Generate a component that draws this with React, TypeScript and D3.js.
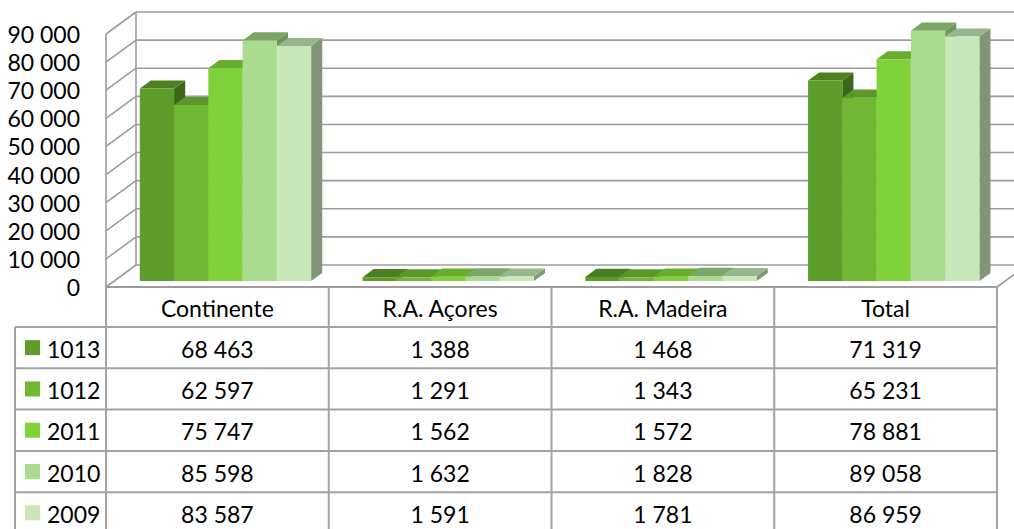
import React from "react";
import * as d3 from "d3";

const categories = ["Continente", "R.A. Açores", "R.A. Madeira", "Total"];
const seriesNames = ["1013", "1012", "2011", "2010", "2009"];
const values1013 = [68463, 1388, 1468, 71319];
const values1012 = [62597, 1291, 1343, 65231];
const values2011 = [75747, 1562, 1572, 78881];
const values2010 = [85598, 1632, 1828, 89058];
const values2009 = [83587, 1591, 1781, 86959];
const yTicks = [0, 10000, 20000, 30000, 40000, 50000, 60000, 70000, 80000, 90000];

const seriesValues = [values1013, values1012, values2011, values2010, values2009];

const frontColors = ["#5e9c2b", "#70b733", "#80d23b", "#a9dc8f", "#c9e8b9"];
const topColors = ["#4c7e22", "#5b9729", "#67ad30", "#7ba667", "#98b68e"];
const sideColors = ["#3b6716", "#4c8424", "#5a9529", "#6f9460", "#809676"];

const W = 1014;
const H = 529;
const FONT = "Lato, 'Open Sans', sans-serif";

const fmt = (v: number) => {
  const s = String(v);
  return s.replace(/\B(?=(\d{3})+(?!\d))/g, " ");
};

export default function App() {
  const xL = 106;
  const xR = 997;
  const yBase = 287;
  const yTop = 34;
  const depthDx = 30;
  const depthDy = -22;
  const d0 = 0.27;
  const d1 = 0.64;

  const yScale = d3.scaleLinear().domain([0, 90000]).range([yBase, yTop]);
  const xCat = d3.scaleBand<string>().domain(categories).range([xL, xR]);
  const xSer = d3
    .scaleBand<string>()
    .domain(seriesNames)
    .range([0, xCat.bandwidth()])
    .paddingInner(0)
    .paddingOuter(0.75);

  const proj = (x: number, v: number, d: number): [number, number] => [
    x + depthDx * d,
    yScale(v) + depthDy * d,
  ];
  const pts = (arr: [number, number][]) => arr.map((p) => p.join(",")).join(" ");

  const gridColor = "#9c9c9c";
  const tableColor = "#a3a3a3";

  // table geometry
  const headerTop = yBase;
  const headerBottom = 327;
  const rowH = 41.3;
  const tableLeft = 15;

  const bars: React.ReactNode[] = [];
  categories.forEach((cat, ci) => {
    seriesNames.forEach((s, si) => {
      const v = seriesValues[si][ci];
      const x0 = (xCat(cat) as number) + (xSer(s) as number);
      const x1 = x0 + xSer.bandwidth();
      const front: [number, number][] = [
        proj(x0, 0, d0),
        proj(x1, 0, d0),
        proj(x1, v, d0),
        proj(x0, v, d0),
      ];
      const top: [number, number][] = [
        proj(x0, v, d0),
        proj(x1, v, d0),
        proj(x1, v, d1),
        proj(x0, v, d1),
      ];
      const side: [number, number][] = [
        proj(x1, 0, d0),
        proj(x1, v, d0),
        proj(x1, v, d1),
        proj(x1, 0, d1),
      ];
      bars.push(
        <g key={`${cat}-${s}`}>
          <polygon points={pts(side)} fill={sideColors[si]} />
          <polygon points={pts(top)} fill={topColors[si]} />
          <polygon points={pts(front)} fill={frontColors[si]} />
        </g>
      );
    });
  });

  const backX0 = xL + depthDx;
  const backX1 = xR + depthDx;

  return (
    <div style={{ position: "absolute", left: 0, top: 0, width: W, height: H, background: "#fff" }}>
      <svg width={W} height={H} style={{ display: "block" }}>
        <rect x={0} y={0} width={W} height={H} fill="#fff" />
        {/* back wall gridlines */}
        {yTicks.map((t) => {
          const [bx, by] = proj(xL, t, 1);
          const [fx, fy] = proj(xL, t, 0);
          return (
            <g key={"g" + t}>
              <line x1={bx} y1={by} x2={backX1} y2={by} stroke={gridColor} strokeWidth={1.6} />
              <line x1={fx} y1={fy} x2={bx} y2={by} stroke={gridColor} strokeWidth={1.6} />
            </g>
          );
        })}
        {/* wall verticals */}
        <line x1={backX0} y1={proj(xL, 90000, 1)[1]} x2={backX0} y2={proj(xL, 0, 1)[1]} stroke={gridColor} strokeWidth={1.6} />
        <line x1={xL} y1={yScale(90000)} x2={xL} y2={yBase} stroke={gridColor} strokeWidth={1.6} />
        {/* floor */}
        <line x1={xL} y1={yBase} x2={xR} y2={yBase} stroke={gridColor} strokeWidth={1.8} />
        <line x1={xR} y1={yBase} x2={backX1} y2={proj(xR, 0, 1)[1]} stroke={gridColor} strokeWidth={1.6} />
        {bars}
        {/* y axis labels */}
        {yTicks.map((t) => (
          <text
            key={"l" + t}
            x={80}
            y={yScale(t)}
            textAnchor="end"
            dominantBaseline="central"
            fontFamily={FONT}
            fontSize={23}
            fill="#000"
          >
            {fmt(t)}
          </text>
        ))}
        {/* data table */}
        {categories.map((cat, ci) => {
          const cx = (xCat(cat) as number) + xCat.bandwidth() / 2;
          return (
            <text
              key={"h" + cat}
              x={cx}
              y={(headerTop + headerBottom) / 2 + 1}
              textAnchor="middle"
              dominantBaseline="central"
              fontFamily={FONT}
              fontSize={23}
              fill="#000"
            >
              {cat}
            </text>
          );
        })}
        {seriesNames.map((s, si) => {
          const ry = headerBottom + si * rowH;
          return (
            <g key={"r" + s}>
              <rect x={25} y={ry + rowH / 2 - 7.5} width={15} height={15} fill={frontColors[si]} />
              <text
                x={47}
                y={ry + rowH / 2 + 1}
                dominantBaseline="central"
                fontFamily={FONT}
                fontSize={23}
                fill="#000"
              >
                {s}
              </text>
              {categories.map((cat, ci) => (
                <text
                  key={cat}
                  x={(xCat(cat) as number) + xCat.bandwidth() / 2}
                  y={ry + rowH / 2 + 1}
                  textAnchor="middle"
                  dominantBaseline="central"
                  fontFamily={FONT}
                  fontSize={23}
                  fill="#000"
                >
                  {fmt(seriesValues[si][ci])}
                </text>
              ))}
            </g>
          );
        })}
        {/* table lines */}
        {seriesNames.map((s, si) => {
          const ry = headerBottom + si * rowH;
          return <line key={"hl" + s} x1={tableLeft} y1={ry} x2={xR} y2={ry} stroke={tableColor} strokeWidth={2} />;
        })}
        <line x1={tableLeft} y1={headerBottom} x2={tableLeft} y2={H} stroke={tableColor} strokeWidth={2} />
        {categories.map((cat) => (
          <line
            key={"v" + cat}
            x1={xCat(cat) as number}
            y1={headerTop}
            x2={xCat(cat) as number}
            y2={H}
            stroke={tableColor}
            strokeWidth={2}
          />
        ))}
        <line x1={xR} y1={headerTop} x2={xR} y2={H} stroke={tableColor} strokeWidth={2} />
      </svg>
    </div>
  );
}
